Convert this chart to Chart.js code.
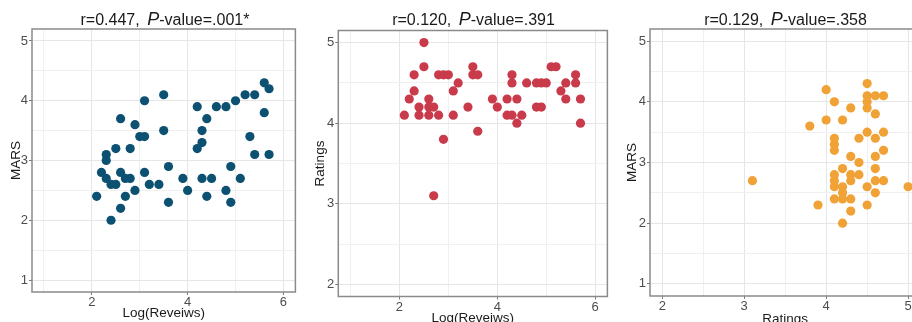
<!DOCTYPE html>
<html>
<head>
<meta charset="utf-8">
<script src="https://cdn.jsdelivr.net/npm/chart.js@4.4.1/dist/chart.umd.min.js"></script>
<style>
  html, body { margin: 0; padding: 0; background: #fff; width: 912px; height: 322px; overflow: hidden; }
  body { position: relative; font-family: "Liberation Sans", Arial, sans-serif; }
  canvas { position: absolute; top: 0; }
  .title { position: absolute; top: 9px; text-align: center; font-size: 16px; line-height: 20px; color: #1a1a1a; white-space: nowrap; }
  .title i { font-size: 18px; margin-left: 3px; }
</style>
</head>
<body>
<canvas id="chartReviewsMars" width="300" height="322" style="left:0"></canvas>
<canvas id="chartReviewsRatings" width="312" height="330" style="left:300px"></canvas>
<canvas id="chartRatingsMars" width="315" height="330" style="left:610px"></canvas>

<div class="title" style="left:32px;width:266px">r=0.447, <i>P</i>-value=.001*</div>
<div class="title" style="left:338px;width:271px">r=0.120, <i>P</i>-value=.391</div>
<div class="title" style="left:650px;width:271px">r=0.129, <i>P</i>-value=.358</div>

<script>
// Panel 1: log(reviews) vs MARS
const logReviewsA = [2.1, 2.2, 2.3, 2.3, 2.3, 2.4, 2.4, 2.5, 2.5, 2.6, 2.6, 2.6, 2.7, 2.7, 2.8, 2.8, 2.9, 2.9, 3.0, 3.1,
    3.1, 3.1, 3.2, 3.4, 3.5, 3.5, 3.6, 3.6, 3.9, 4.0, 4.2, 4.2, 4.3, 4.3, 4.3, 4.4, 4.4, 4.5, 4.6, 4.8,
    4.8, 4.9, 4.9, 5.0, 5.1, 5.2, 5.3, 5.4, 5.4, 5.6, 5.6, 5.7, 5.7];
const marsA = [2.4, 2.8, 3.1, 3.0, 2.7, 2.6, 2.0, 3.2, 2.6, 3.7, 2.8, 2.2, 2.7, 2.4, 3.2, 2.7, 3.6, 2.5, 3.4, 3.4,
    4.0, 2.8, 2.6, 2.6, 4.1, 3.5, 2.9, 2.3, 2.7, 2.5, 3.9, 3.2, 3.5, 3.3, 2.7, 3.7, 2.4, 2.7, 3.9, 3.9,
    2.5, 2.9, 2.3, 4.0, 2.7, 4.1, 3.4, 4.1, 3.1, 4.3, 3.8, 4.2, 3.1];

// Panel 2: log(reviews) vs ratings
const logReviewsB = [2.1, 2.2, 2.3, 2.3, 2.4, 2.4, 2.5, 2.5, 2.6, 2.6, 2.6, 2.7, 2.7, 2.8, 2.8, 2.9, 2.9, 3.0, 3.1, 3.1,
    3.2, 3.4, 3.5, 3.5, 3.6, 3.6, 3.9, 4.0, 4.2, 4.2, 4.3, 4.3, 4.3, 4.4, 4.4, 4.5, 4.6, 4.8, 4.8, 4.9,
    4.9, 5.0, 5.1, 5.2, 5.3, 5.4, 5.4, 5.6, 5.6, 5.7, 5.7];
const ratingsB = [4.1, 4.3, 4.4, 4.6, 4.2, 4.1, 5.0, 4.7, 4.3, 4.2, 4.1, 4.2, 3.1, 4.6, 4.1, 4.6, 3.8, 4.6, 4.4, 4.1,
    4.5, 4.2, 4.7, 4.6, 4.6, 3.9, 4.3, 4.2, 4.3, 4.1, 4.6, 4.5, 4.1, 4.3, 4.0, 4.1, 4.5, 4.5, 4.2, 4.5,
    4.2, 4.5, 4.7, 4.7, 4.4, 4.5, 4.3, 4.6, 4.5, 4.3, 4.0];

// Panel 3: ratings vs MARS
const ratingsC = [3.1, 3.8, 3.9, 4.0, 4.0, 4.1, 4.1, 4.1, 4.1, 4.1, 4.1, 4.1, 4.1, 4.2, 4.2, 4.2, 4.2, 4.2, 4.2, 4.3,
    4.3, 4.3, 4.3, 4.3, 4.3, 4.4, 4.4, 4.4, 4.5, 4.5, 4.5, 4.5, 4.5, 4.5, 4.5, 4.6, 4.6, 4.6, 4.6, 4.6,
    4.6, 4.6, 4.7, 4.7, 4.7, 4.7, 5.0];
const marsC = [2.7, 3.6, 2.3, 4.2, 3.7, 4.0, 3.4, 3.3, 3.2, 2.8, 2.7, 2.6, 2.4, 3.7, 2.9, 2.6, 2.5, 2.4, 2.0, 3.9,
    3.1, 2.8, 2.7, 2.4, 2.2, 3.4, 3.0, 2.8, 4.3, 4.1, 4.0, 3.9, 3.5, 2.6, 2.3, 4.1, 3.8, 3.4, 3.1, 2.9,
    2.7, 2.5, 4.1, 3.5, 3.2, 2.7, 2.6];

// Tick labels (major breaks) and axis limits
const reviewTicks = [2, 4, 6];
const marsTicks = [1, 2, 3, 4, 5];
const ratingTicks = [2, 3, 4, 5];
const reviewLimits = [1, 6];
const marsLimits = [1, 5];
const ratingLimits = [2, 5];

const blue = '#0c5172';
const red = '#c93a4b';
const orange = '#f0a236';

Chart.defaults.font.family = "'Liberation Sans', Arial, sans-serif";

// ggplot adds 5% on each side of the data range
function expand(limits) {
    const pad = (limits[1] - limits[0]) * 0.05;
    return [limits[0] - pad, limits[1] + pad];
}

// major breaks plus minor ones halfway between, only those inside the panel
function gridValues(ticks, range) {
    const step = ticks[1] - ticks[0];
    const vals = [];
    for (let v = ticks[0] - step / 2; v <= ticks[ticks.length - 1] + step / 2 + 1e-9; v += step / 2) {
        const r = Math.round(v * 100) / 100;
        if (r > range[0] && r < range[1]) vals.push(r);
    }
    return vals;
}

function axis(ticks, limits, title, size, titlePad) {
    const range = expand(limits);
    const grid = gridValues(ticks, range);
    const isMajor = v => ticks.includes(v);
    return {
        type: 'linear',
        min: range[0],
        max: range[1],
        afterBuildTicks: scale => { scale.ticks = grid.map(v => ({ value: v })); },
        afterFit: scale => {
            if (scale.isHorizontal()) scale.height = size;
            else scale.width = size;
        },
        ticks: {
            autoSkip: false,
            maxRotation: 0,
            padding: 1,
            color: '#4d4d4d',
            font: { size: 13, lineHeight: 1 },
            callback: v => isMajor(v) ? String(v) : ''
        },
        grid: {
            color: ctx => (ctx.tick && isMajor(ctx.tick.value)) ? '#e6e6e6' : '#f0f0f0',
            lineWidth: 1,
            tickLength: 3,
            tickColor: ctx => (ctx.tick && isMajor(ctx.tick.value)) ? '#7a7a7a' : 'rgba(0,0,0,0)'
        },
        border: { display: false },
        title: {
            display: true,
            text: title,
            color: '#1a1a1a',
            font: { size: 13.5 },
            padding: titlePad
        }
    };
}

// grey frame round the plotting area (theme_bw)
const panelBorder = {
    id: 'panelBorder',
    afterDatasetsDraw(chart) {
        const { ctx, chartArea: a } = chart;
        ctx.save();
        ctx.strokeStyle = '#8a8a8a';
        ctx.lineWidth = 1.5;
        ctx.strokeRect(a.left, a.top, a.right - a.left, a.bottom - a.top);
        ctx.restore();
    }
};

function makeChart(id, xs, ys, color, xAxis, yAxis, padding) {
    return new Chart(document.getElementById(id), {
        type: 'scatter',
        data: {
            datasets: [{
                data: xs.map((x, i) => ({ x: x, y: ys[i] })),
                backgroundColor: color,
                borderColor: color,
                borderWidth: 0,
                pointRadius: 4.6,
                pointHoverRadius: 4.6
            }]
        },
        options: {
            responsive: false,
            animation: false,
            layout: { padding: padding },
            plugins: { legend: { display: false }, tooltip: { enabled: false } },
            scales: { x: xAxis, y: yAxis }
        },
        plugins: [panelBorder]
    });
}

const chartA = makeChart('chartReviewsMars', logReviewsA, marsA, blue,
    axis(reviewTicks, reviewLimits, 'Log(Reveiws)', 30, { bottom: 1 }),
    axis(marsTicks, marsLimits, 'MARS', 32, { top: 8 }),
    { top: 29, right: 2, left: 0, bottom: 0 });

const chartB = makeChart('chartReviewsRatings', logReviewsB, ratingsB, red,
    axis(reviewTicks, reviewLimits, 'Log(Reveiws)', 33.5, { bottom: 3.4 }),
    axis(ratingTicks, ratingLimits, 'Ratings', 38.3, { top: 12 }),
    { top: 30.5, right: 3, left: 0, bottom: 0 });

const chartC = makeChart('chartRatingsMars', ratingsC, marsC, orange,
    axis(ratingTicks, ratingLimits, 'Ratings', 34, { bottom: 2.4 }),
    axis(marsTicks, marsLimits, 'MARS', 40, { top: 14 }),
    { top: 29, right: 4, left: 0, bottom: 0 });
</script>
</body>
</html>
